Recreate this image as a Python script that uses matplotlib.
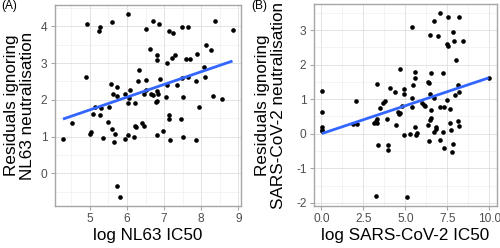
import matplotlib
matplotlib.use("Agg")
import matplotlib.pyplot as plt
from matplotlib.ticker import MultipleLocator
import numpy as np

plt.rcParams["font.family"] = ["Liberation Sans", "DejaVu Sans"]
plt.rcParams["axes.unicode_minus"] = False

# ---- panel A: NL63 ----
nl63_ic50 = [4.28, 4.51, 4.93, 4.91, 5.24, 5.28, 5.60, 6.04, 6.50, 6.71, 6.86, 7.12,
             7.24, 7.47, 7.63, 8.38, 8.84, 6.61, 6.80, 6.82, 7.07, 7.21, 7.29, 7.59,
             7.69, 7.88, 8.13, 8.27, 8.07, 8.10, 7.85, 6.88, 7.08, 7.34, 7.48, 7.64,
             6.80, 6.84, 6.65, 6.71, 6.82, 6.79, 7.05, 7.51, 8.32, 8.57, 6.33, 5.58,
             5.72, 6.29, 6.51, 5.62, 5.74, 5.95, 6.07, 6.47, 6.03, 6.21, 5.13, 5.31,
             5.52, 5.10, 5.27, 5.49, 5.61, 5.69, 5.66, 5.36, 5.02, 5.04, 6.04, 5.96,
             6.18, 6.22, 6.25, 6.40, 6.46, 5.74, 5.82, 7.95, 7.13, 7.12, 7.46, 6.80,
             6.96, 7.16, 7.51, 7.87, 6.05, 6.51]
nl63_resid = [0.94, 1.38, 4.05, 2.62, 3.86, 3.97, 4.11, 4.33, 3.93, 4.15, 4.06, 3.86,
              3.82, 3.97, 3.97, 4.14, 3.90, 3.38, 3.23, 3.08, 3.01, 3.14, 3.23, 3.11,
              3.11, 3.25, 3.48, 3.35, 2.88, 2.62, 2.50, 2.56, 2.40, 2.41, 2.59, 2.61,
              2.25, 2.16, 2.17, 2.13, 1.97, 1.93, 2.07, 2.09, 2.10, 2.03, 2.82, 2.44,
              2.35, 2.52, 2.55, 2.15, 2.10, 2.15, 2.27, 2.17, 1.91, 1.91, 1.81, 1.78,
              1.81, 1.61, 1.59, 1.41, 1.22, 1.07, 0.85, 0.95, 1.08, 1.12, 1.05, 0.93,
              1.00, 1.28, 1.25, 1.38, 1.28, -0.35, -0.64, 1.81, 1.59, 1.47, 1.48, 1.04,
              1.14, 0.91, 0.99, 0.92, 2.05, 2.28]

# ---- panel B: SARS-CoV-2 ----
sars_ic50 = [0.03, 0.03, 0.03, 0.03, 0.03, 1.87, 2.15, 2.06,
             3.13, 3.23, 3.33, 3.29, 3.29, 3.49, 3.69, 3.80, 3.90, 3.35, 3.98, 3.96, 3.25,
             4.06, 4.40, 4.42, 4.55, 4.63, 4.70, 4.77, 4.69, 4.91, 4.91, 4.93, 5.25, 5.10,
             5.38, 5.41, 5.44, 5.41, 5.58, 5.58, 5.58, 5.66, 5.60,
             6.00, 6.12, 6.19, 6.33, 6.39, 6.35, 6.41, 6.45, 6.53, 6.47, 6.51, 6.51, 6.47,
             6.69, 6.71, 6.71, 6.79, 6.83, 6.92, 7.04, 7.07, 7.07, 7.22, 7.24, 7.30, 7.32,
             7.48, 7.52, 7.50, 7.56, 7.63, 7.63, 7.72, 7.78, 7.84, 7.81, 7.89, 7.93, 7.99,
             8.11, 8.17, 8.15, 8.21, 8.21, 8.40, 9.95]
sars_resid = [1.23, 0.63, 0.19, 0.12, 0.07, 0.29, 0.29, 0.94,
              0.32, 0.36, 0.32, 0.42, 1.44, 0.75, 0.90, 0.96, 0.42, -0.34, -0.34, -0.46, -1.81,
              1.31, 1.20, 0.24, 0.63, 0.56, 0.60, 0.81, 1.86, 1.29, 1.15, -0.03, -0.02, -1.83,
              1.03, 0.78, 1.40, 3.10, 1.78, 1.62, 0.18, 0.01, -0.05,
              0.89, 0.83, 0.80, 1.51, 1.46, 0.25, -0.21, 0.40, 0.46, 1.15, 0.70, 1.77, 2.87,
              1.03, 3.25, 0.04, 0.15, 0.20, 2.82, -0.17, 3.49, 0.77, 1.75, 0.05, -0.42, 0.77,
              2.60, 2.55, 0.99, 3.37, 0.71, 0.32, 0.12, -0.54, -0.29, 2.94, 2.68, 1.11, 2.13,
              1.40, 1.22, 0.37, 0.22, 3.38, 2.68, 1.60]

fig = plt.figure(figsize=(5.0, 2.48), dpi=100)


def panel(ax, x, y, xlab, ylab_lines, ylab_pos, xmaj, ymaj, xfmt):
    x, y = np.asarray(x), np.asarray(y)
    ax.scatter(x, y, s=11, color="black", linewidths=0, zorder=3)
    # linear fit, like geom_smooth(method="lm", se=FALSE)
    k, b = np.polyfit(x, y, 1)
    xs = np.array([x.min(), x.max()])
    ax.plot(xs, k * xs + b, color="#3366FF", lw=2, zorder=4, solid_capstyle="butt")

    xr = x.max() - x.min()
    yr = y.max() - y.min()
    ax.set_xlim(x.min() - 0.05 * xr, x.max() + 0.05 * xr)
    ax.set_ylim(y.min() - 0.05 * yr, y.max() + 0.05 * yr)

    ax.xaxis.set_major_locator(MultipleLocator(xmaj))
    ax.xaxis.set_minor_locator(MultipleLocator(xmaj / 2))
    ax.yaxis.set_major_locator(MultipleLocator(ymaj))
    ax.yaxis.set_minor_locator(MultipleLocator(ymaj / 2))
    ax.xaxis.set_major_formatter(xfmt)
    ax.yaxis.set_major_formatter(lambda v, p: f"{v:.0f}")

    ax.grid(True, which="major", color="#DEDEDE", lw=0.6)
    ax.grid(True, which="minor", color="#EDEDED", lw=0.4)
    ax.set_axisbelow(True)
    for s in ax.spines.values():
        s.set_color("#A6A6A6")
        s.set_linewidth(1.0)
    ax.tick_params(which="major", length=3, width=0.8, color="#A6A6A6",
                   labelsize=8.6, labelcolor="#4D4D4D", pad=2)
    ax.tick_params(which="minor", length=0)

    ax.set_xlabel(xlab, fontsize=12.3, labelpad=2)
    # two-line y title, one text per line
    for line, xp in zip(ylab_lines, ylab_pos):
        ax.text(xp, 0.5, line, transform=ax.transAxes, rotation=90,
                ha="center", va="center", fontsize=12.3)


axA = fig.add_axes([0.109, 0.169, 0.373, 0.811])
panel(axA, nl63_ic50, nl63_resid, "log NL63 IC50",
      ["Residuals ignoring", "NL63 neutralisation"], [-0.229, -0.143],
      1, 1, lambda v, p: f"{v:.0f}")

axB = fig.add_axes([0.627, 0.169, 0.367, 0.815])
panel(axB, sars_ic50, sars_resid, "log SARS-CoV-2 IC50",
      ["Residuals ignoring", "SARS-CoV-2 neutralisation"], [-0.280, -0.192],
      2.5, 1, lambda v, p: f"{v:.1f}")

fig.text(0.002, 0.998, "(A)", fontsize=8.6, va="top", ha="left")
fig.text(0.502, 0.998, "(B)", fontsize=8.6, va="top", ha="left")

fig.savefig("out.png", dpi=100)
